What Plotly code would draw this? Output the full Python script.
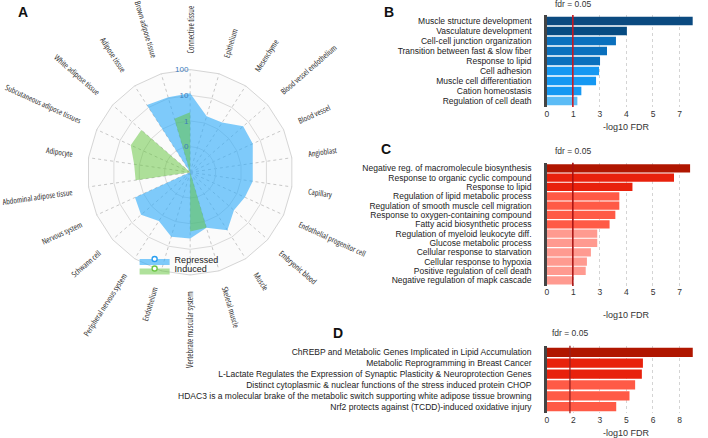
import math
import plotly.graph_objects as go

W, H = 708, 438

# ---------------- data ----------------
tissues = ["Connective tissue", "Epithelium", "Mesenchyme", "Blood vessel endothelium",
           "Blood vessel", "Angioblast", "Capillary", "Endothelial progenitor cell",
           "Embryonic blood", "Muscle", "Skeletal muscle", "Vertebrate muscular system",
           "Endothelium", "Peripheral nervous system", "Schwann cell", "Nervous system",
           "Abdominal adipose tissue", "Adipocyte", "Subcutaneous adipose tissues",
           "White adipose tissue", "Adipose tissue", "Brown adipose tissue"]
repressed = [12, 1.9, 2.0, 5.4, 4.8, 2.9, 2.9, 2.2, 1.8, 4.8, 1.8, 3.8,
             4.1, 1.8, 3.4, 2.3, 0, 0, 0, 0, 13, 11]
induced = [2.2, 0, 0, 0, 0, 0, 0, 0, 0, 0, 1.8, 2.0,
           0, 0, 0, 0, 1.4, 1.6, 3.5, 3.3, 0, 1.5]
radial_ticks = [0.1, 1, 10, 100]
radial_ticktext = ["0", "1", "10", "100"]

b_terms = ["Muscle structure development", "Vasculature development",
           "Cell-cell junction organization", "Transition between fast & slow fiber",
           "Response to lipid", "Cell adhesion", "Muscle cell differentiation",
           "Cation homeostasis", "Regulation of cell death"]
b_values = [7.33, 4.02, 3.47, 3.02, 2.67, 2.62, 2.47, 1.73, 1.53]
b_colors = ["#0b4a80", "#064b82", "#0a70bd", "#0a70bd", "#0a70bd",
            "#1598f2", "#1598f2", "#1598f2", "#5cbcf6"]

c_terms = ["Negative reg. of macromolecule biosynthesis", "Response to organic cyclic compound",
           "Response to lipid", "Regulation of lipid metabolic process",
           "Regulation of smooth muscle cell migration", "Response to oxygen-containing compound",
           "Fatty acid biosynthetic process", "Regulation of myeloid leukocyte diff.",
           "Glucose metabolic process", "Cellular response to starvation",
           "Cellular response to hypoxia", "Positive regulation of cell death",
           "Negative regulation of mapk cascade"]
c_values = [7.2, 6.39, 4.3, 3.64, 3.64, 3.44, 3.15, 2.53, 2.53, 2.21, 2.01, 1.95, 1.31]
c_colors = ["#b01600", "#e8210c", "#e8210c", "#ff5a46", "#ff5a46", "#ff5a46", "#ff5a46",
            "#ff9a90", "#ff9a90", "#ff9a90", "#ff9a90", "#ff9a90", "#ff9a90"]

d_terms = ["ChREBP and Metabolic Genes Implicated in Lipid Accumulation",
           "Metabolic Reprogramming in Breast Cancer",
           "L-Lactate Regulates the Expression of Synaptic Plasticity & Neuroprotection Genes",
           "Distinct cytoplasmic & nuclear functions of the stress induced protein CHOP",
           "HDAC3 is a molecular brake of the metabolic switch supporting white adipose tissue browning",
           "Nrf2 protects against (TCDD)-induced oxidative injury"]
d_values = [8.25, 5.43, 5.37, 4.99, 4.67, 3.92]
d_colors = ["#b01600", "#e8210c", "#e8210c", "#ff5a46", "#ff5a46", "#ff5a46"]

bc_tickvals = [0, 4/3, 8/3, 4, 16/3, 20/3, 8]
bc_ticktext = ["0", "1", "3", "4", "5", "7", "8"]
d_tickvals = [0, 1.5, 3, 4.5, 6, 7.5, 9]
d_ticktext = ["0", "2", "3", "5", "6", "8", "9"]
fdr = 0.05
fdr_x = -math.log10(fdr)

# ---------------- layout helpers ----------------
def px(x):
    return x / W

def py(y):
    return 1 - y / H

CX, CY, R = 188.7, 172.3, 103.0
RMIN = 0.01
COND = "Open Sans, Roboto, sans-serif"

fig = go.Figure()

blue_line = "#2a9ff0"
green_line = "#6cc644"
fig.add_trace(go.Scatterpolar(
    r=[v if v > 0 else RMIN for v in repressed], theta=tissues, name="Repressed",
    mode="markers", fill="toself", fillcolor="rgba(44,170,250,0.6)",
    marker=dict(size=5, color="white", line=dict(color=blue_line, width=1.4)),
    legend="legend"))
fig.add_trace(go.Scatterpolar(
    r=[v if v > 0 else RMIN for v in induced], theta=tissues, name="Induced",
    mode="markers", fill="toself", fillcolor="rgba(95,195,55,0.5)",
    marker=dict(size=5, color="white", line=dict(color=green_line, width=1.4)),
    legend="legend2"))
# repressed markers drawn again on top
fig.add_trace(go.Scatterpolar(
    r=[v if v > 0 else RMIN for v in repressed], theta=tissues, showlegend=False,
    mode="markers",
    marker=dict(size=5, color="white", line=dict(color=blue_line, width=1.4))))

fig.update_layout(polar=dict(
    domain=dict(x=[px(CX - R), px(CX + R)], y=[py(CY + R), py(CY - R)]),
    bgcolor="rgb(251,251,251)",
    gridshape="linear",
    angularaxis=dict(type="category", categoryarray=tissues, rotation=90,
                     direction="clockwise", showticklabels=False, ticks="",
                     gridcolor="#c8c8c8", griddash="dot", linecolor="#d5d5d5",
                     showline=True, linewidth=1),
    radialaxis=dict(type="log", range=[-2, 2], tickvals=radial_ticks,
                    ticktext=radial_ticktext, angle=90, tickangle=90,
                    side="counterclockwise", showline=False, ticks="",
                    gridcolor="#dadada", gridwidth=1,
                    tickfont=dict(size=8, color="#3c7dbd", family="Liberation Sans, Arial"))))

# tissue labels as rotated annotations, reading along the radius
LAB_R = 117.0
HH = 5.5
n = len(tissues)
for i, name in enumerate(tissues):
    deg = i * 360.0 / n
    th = math.radians(deg)
    s, c = math.sin(th), math.cos(th)
    sx, sy = CX + LAB_R * s, CY - LAB_R * c
    if 0.1 < deg < 179.9:
        angle = deg - 90
    elif deg <= 0.1:
        angle = -90
    else:
        angle = deg - 270
    if abs(s) < 0.05:
        xa, ax_ = "center", sx
    elif s > 0:
        xa, ax_ = "left", sx - HH * abs(c)
    else:
        xa, ax_ = "right", sx + HH * abs(c)
    if c > 0.05:
        ya, ay_ = "bottom", sy + HH * abs(s)
    elif c < -0.05:
        ya, ay_ = "top", sy - HH * abs(s)
    else:
        ya, ay_ = "middle", sy
    fig.add_annotation(x=px(ax_), y=py(ay_), xref="paper", yref="paper",
                       text=f'<span style="font-stretch:condensed">{name}</span>',
                       showarrow=False, textangle=angle, xanchor=xa, yanchor=ya,
                       font=dict(size=8.0, color="#333", family=COND))

# legends
fig.update_layout(
    legend=dict(x=px(133), y=py(259), xanchor="left", yanchor="middle",
                bgcolor="rgba(0,0,0,0)", font=dict(size=9, color="#222"),
                itemwidth=30),
    legend2=dict(x=px(133), y=py(268.5), xanchor="left", yanchor="middle",
                 bgcolor="rgba(0,0,0,0)", font=dict(size=9, color="#222"),
                 itemwidth=30))

# ---------------- bar charts ----------------
XL, XR = 546.5, 706.0
panels = [
    ("x", "y", b_terms, b_values, b_colors, (15, 107), [0, 8], bc_tickvals, bc_ticktext, 0.85, "#d0131a", 4, 127),
    ("x2", "y2", c_terms, c_values, c_colors, (162.7, 285.9), [0, 8], bc_tickvals, bc_ticktext, 0.88, "#a81010", 150.7, 315),
    ("x3", "y3", d_terms, d_values, d_colors, (345.8, 413.2), [0, 9], d_tickvals, d_ticktext, 0.85, "rgba(150,30,30,0.85)", 333.3, 433.3),
]
for k, (xr, yr, terms, vals, cols, (ytop, ybot), xrange_, tv, tt, bw, lc, fdr_y, title_y) in enumerate(panels):
    fig.add_trace(go.Bar(x=vals, y=terms, orientation="h", xaxis=xr, yaxis=yr,
                         marker=dict(color=cols, line=dict(width=0)), width=bw,
                         showlegend=False))
    xname = "xaxis" if k == 0 else f"xaxis{k+1}"
    yname = "yaxis" if k == 0 else f"yaxis{k+1}"
    nb = len(terms)
    fig.update_layout(**{
        xname: dict(domain=[px(XL), px(XR)], anchor=yr, range=xrange_, tickvals=tv,
                    ticktext=tt, showgrid=True, gridcolor="#d4d4d4", griddash="dot",
                    zeroline=False, showline=False, ticks="",
                    tickfont=dict(size=8.5, color="#333")),
        yname: dict(domain=[py(ybot), py(ytop)], anchor=xr, type="category",
                    categoryarray=terms, tickmode="array", tickvals=terms, ticktext=terms,
                    range=[nb - 0.4, -0.6], showgrid=False,
                    showline=True, linecolor="#444", linewidth=2.5, ticks="",
                    ticklabelstandoff=11, tickfont=dict(size=8.5, color="#222")),
    })
    fig.add_shape(type="line", xref=xr, yref=f"{yr} domain", x0=fdr_x, x1=fdr_x,
                  y0=0, y1=1, line=dict(color=lc, width=1.5), layer="above")
    fdr_px = XL + fdr_x / xrange_[1] * (XR - XL)
    fig.add_annotation(x=px(fdr_px), y=py(fdr_y), xref="paper", yref="paper",
                       text=f"fdr = {fdr}", showarrow=False, xanchor="center", yanchor="middle",
                       font=dict(size=8.5, color="#333"))
    fig.add_annotation(x=px(626.7), y=py(title_y), xref="paper", yref="paper",
                       text="-log10 FDR", showarrow=False, xanchor="center", yanchor="middle",
                       font=dict(size=9, color="#333"))

# panel letters
for letter, lx, ly in [("A", 20.7, 12.3), ("B", 387.7, 12.3), ("C", 385, 149), ("D", 337, 333)]:
    fig.add_annotation(x=px(lx), y=py(ly), xref="paper", yref="paper", text=f"<b>{letter}</b>",
                       showarrow=False, xanchor="center", yanchor="middle",
                       font=dict(size=14, color="#111", family="Liberation Sans, Arial"))

fig.update_layout(width=W, height=H, margin=dict(l=0, r=0, t=0, b=0),
                  paper_bgcolor="white", plot_bgcolor="white",
                  font=dict(family="Liberation Sans, Arial, Helvetica, sans-serif", color="#222"))

fig.write_html("out.html", config={"displayModeBar": False},
               post_script="document.body.style.margin='0';")
